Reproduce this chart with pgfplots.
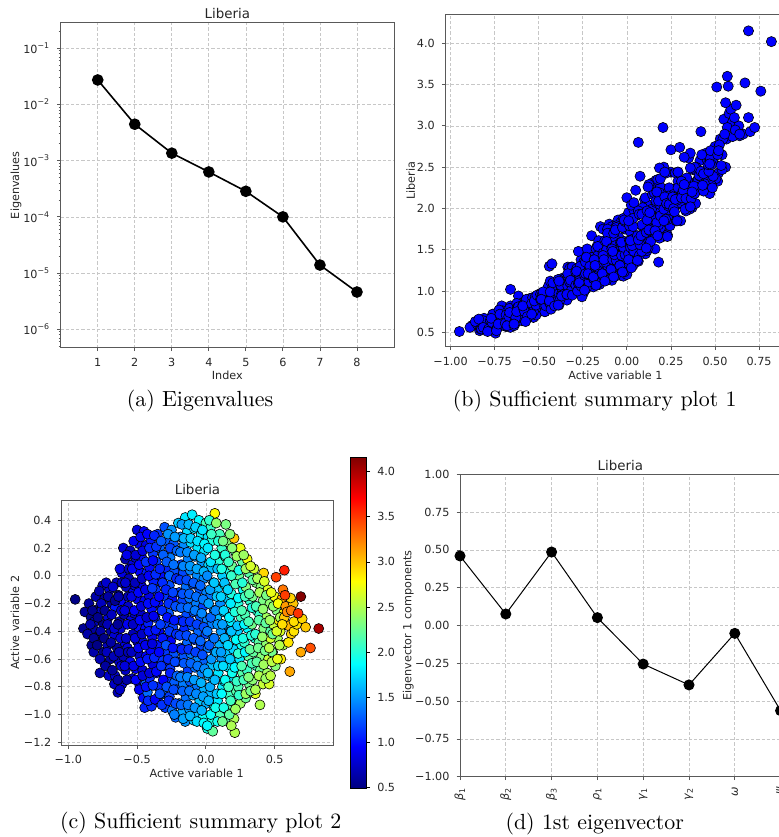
\documentclass[border=0pt]{standalone}
\usepackage{fontspec}
\usepackage{pgfplots}
\usepackage{pgfplotstable}
\pgfplotsset{compat=1.18}
\newfontfamily\dv{DejaVu Sans}
\newcommand\tk{\dv\fontsize{5.6}{6.7}\selectfont}
\newcommand\tl{\dv\fontsize{6.7}{8}\selectfont}
\definecolor{spine}{gray}{0.35}
\definecolor{gridc}{gray}{0.78}
\definecolor{txt}{gray}{0.15}
\pgfplotsset{mpl/.style={
  scale only axis, anchor=south west,
  axis line style={spine, line width=0.4pt},
  tick style={spine, line width=0.4pt},
  major tick length=1.75pt, minor tick length=1pt,
  tick align=outside, xtick pos=bottom, ytick pos=left,
  grid=major,
  major grid style={gridc, line width=0.35pt, dash pattern=on 1.6pt off 1pt},
  tick label style={font=\tk, color=txt},
  label style={font=\tk, color=txt},
  every axis title/.style={at={(0.5,1)}, anchor=base, font=\tl, color=txt},
  every axis x label/.style={anchor=center, font=\tk, color=txt},
  every axis y label/.style={anchor=center, rotate=90, font=\tk, color=txt},
  enlargelimits=false,
}}
\pgfplotstableread{
a b f
-0.950 -0.17 0.51
-0.880 -0.26 0.58
-0.890 -0.38 0.56
-0.820 -0.38 0.62
-0.850 -0.20 0.60
-0.835 -0.30 0.52
-0.860 -0.42 0.63
-0.830 -0.50 0.54
-0.800 -0.15 0.64
-0.785 -0.24 0.53
-0.810 -0.33 0.67
-0.780 -0.44 0.57
-0.815 -0.55 0.64
-0.750 -0.07 0.70
-0.735 -0.16 0.57
-0.760 -0.25 0.72
-0.745 -0.35 0.49
-0.765 -0.45 0.66
-0.745 -0.55 0.55
-0.730 -0.64 0.75
-0.770 -0.70 0.64
-0.700 -0.10 0.74
-0.685 -0.20 0.57
-0.710 -0.30 0.82
-0.690 -0.40 0.62
-0.715 -0.50 0.71
-0.695 -0.60 0.58
-0.705 -0.72 0.76
-0.650 -0.05 0.72
-0.635 -0.14 0.60
-0.660 -0.23 1.02
-0.630 -0.33 0.65
-0.665 -0.43 0.79
-0.645 -0.52 0.58
-0.630 -0.62 0.74
-0.660 -0.72 0.82
-0.640 -0.84 0.70
-0.600 0.20 0.80
-0.585 0.12 0.66
-0.610 0.02 0.84
-0.580 -0.08 0.71
-0.615 -0.18 0.94
-0.595 -0.28 0.64
-0.620 -0.38 0.76
-0.590 -0.48 0.86
-0.600 -0.58 0.68
-0.585 -0.68 0.74
-0.610 -0.78 0.82
-0.550 0.18 0.70
-0.535 0.08 0.84
-0.560 -0.02 0.69
-0.530 -0.12 0.89
-0.565 -0.22 0.76
-0.545 -0.32 0.86
-0.530 -0.42 0.68
-0.570 -0.52 0.81
-0.550 -0.62 0.91
-0.535 -0.74 0.73
-0.500 0.33 0.82
-0.485 0.23 0.88
-0.510 0.13 0.78
-0.480 0.03 0.94
-0.515 -0.07 0.83
-0.495 -0.17 0.88
-0.520 -0.27 0.75
-0.490 -0.37 0.97
-0.500 -0.47 0.89
-0.485 -0.57 0.76
-0.510 -0.67 0.94
-0.480 -0.79 0.83
-0.450 0.32 0.92
-0.435 0.22 0.86
-0.460 0.12 0.97
-0.430 0.02 1.05
-0.465 -0.08 0.85
-0.445 -0.18 0.90
-0.470 -0.28 0.76
-0.440 -0.38 0.97
-0.455 -0.48 0.87
-0.435 -0.58 0.94
-0.460 -0.68 0.82
-0.440 -0.78 1.30
-0.455 -0.88 0.99
-0.445 -0.95 1.06
-0.400 0.26 1.01
-0.385 0.16 1.14
-0.410 0.06 0.98
-0.380 -0.04 1.05
-0.415 -0.14 0.85
-0.395 -0.24 0.97
-0.420 -0.34 1.06
-0.390 -0.44 0.88
-0.400 -0.54 0.95
-0.385 -0.64 0.83
-0.410 -0.74 1.06
-0.425 -0.84 1.33
-0.395 -0.94 1.08
-0.350 0.30 1.13
-0.335 0.20 1.29
-0.360 0.10 1.16
-0.330 0.00 0.99
-0.365 -0.10 1.14
-0.345 -0.20 0.99
-0.370 -0.30 1.07
-0.340 -0.40 0.89
-0.355 -0.50 1.02
-0.335 -0.60 1.14
-0.360 -0.70 0.98
-0.345 -0.80 1.07
-0.350 -0.90 0.98
-0.300 0.35 1.24
-0.285 0.25 1.27
-0.310 0.15 1.27
-0.280 0.05 1.08
-0.315 -0.05 1.26
-0.295 -0.15 1.14
-0.320 -0.25 0.99
-0.290 -0.35 1.16
-0.300 -0.45 1.03
-0.285 -0.55 1.14
-0.310 -0.65 0.98
-0.280 -0.75 1.15
-0.315 -0.85 1.29
-0.295 -0.95 1.17
-0.250 0.33 1.47
-0.235 0.23 1.25
-0.260 0.13 1.38
-0.230 0.03 1.22
-0.265 -0.07 1.23
-0.245 -0.17 0.98
-0.270 -0.27 1.26
-0.240 -0.37 1.17
-0.255 -0.47 0.93
-0.235 -0.57 1.24
-0.260 -0.67 1.14
-0.230 -0.77 1.28
-0.265 -0.87 1.16
-0.245 -0.97 1.35
-0.200 0.38 1.67
-0.185 0.28 1.42
-0.210 0.18 1.39
-0.180 0.08 1.18
-0.215 -0.02 1.32
-0.195 -0.12 1.17
-0.220 -0.22 1.19
-0.190 -0.32 1.05
-0.200 -0.42 1.26
-0.185 -0.52 1.19
-0.210 -0.62 1.09
-0.180 -0.72 1.31
-0.215 -0.82 1.24
-0.195 -0.92 1.41
-0.220 -1.02 1.31
-0.150 0.42 1.78
-0.135 0.32 1.75
-0.160 0.22 1.45
-0.130 0.12 1.41
-0.165 0.02 1.20
-0.145 -0.08 1.34
-0.170 -0.18 1.19
-0.140 -0.28 1.22
-0.155 -0.38 1.08
-0.135 -0.48 1.31
-0.160 -0.58 1.25
-0.130 -0.68 1.16
-0.165 -0.78 1.40
-0.145 -0.88 1.34
-0.170 -0.98 1.54
-0.150 -1.05 1.49
-0.100 0.44 1.81
-0.085 0.34 1.78
-0.110 0.24 1.75
-0.080 0.14 1.45
-0.115 0.04 1.41
-0.095 -0.06 1.21
-0.120 -0.16 1.36
-0.090 -0.26 1.22
-0.100 -0.36 1.26
-0.085 -0.46 1.13
-0.110 -0.56 1.38
-0.080 -0.66 1.34
-0.115 -0.76 1.27
-0.095 -0.86 1.53
-0.120 -0.96 1.50
-0.090 -1.04 1.70
-0.050 0.40 1.86
-0.035 0.30 1.83
-0.060 0.20 1.79
-0.030 0.10 1.49
-0.065 0.00 1.45
-0.045 -0.10 1.24
-0.070 -0.20 1.39
-0.040 -0.30 1.26
-0.055 -0.40 1.31
-0.035 -0.50 1.19
-0.060 -0.60 1.44
-0.030 -0.70 1.42
-0.065 -0.80 1.37
-0.045 -0.90 1.65
-0.070 -1.00 1.64
0.000 0.38 2.13
0.015 0.28 1.77
-0.010 0.18 1.75
0.020 0.08 1.72
-0.015 -0.02 1.43
0.005 -0.12 1.42
-0.020 -0.22 1.18
0.010 -0.32 1.41
0.000 -0.42 1.20
0.015 -0.52 1.38
-0.010 -0.62 1.29
0.020 -0.72 1.57
-0.015 -0.82 1.59
0.005 -0.92 1.57
-0.020 -1.02 1.88
0.010 -1.10 1.95
0.065 0.45 2.80
0.035 0.35 2.05
0.040 0.25 1.99
0.070 0.15 1.94
0.035 0.05 1.62
0.055 -0.05 1.58
0.030 -0.15 1.37
0.060 -0.25 1.53
0.040 -0.35 1.40
0.050 -0.45 1.46
0.065 -0.55 1.36
0.035 -0.65 1.63
0.055 -0.75 1.63
0.030 -0.85 1.60
0.060 -0.95 1.92
0.040 -1.05 1.98
0.050 -1.12 2.22
0.100 0.30 2.11
0.115 0.20 2.05
0.090 0.10 2.00
0.120 0.00 1.69
0.085 -0.10 1.65
0.105 -0.20 1.45
0.080 -0.30 1.61
0.110 -0.40 1.50
0.100 -0.50 1.57
0.115 -0.60 1.49
0.090 -0.70 1.78
0.120 -0.80 1.80
0.085 -0.90 1.80
0.105 -1.00 2.13
0.145 0.37 2.31
0.165 0.24 2.34
0.140 0.14 1.98
0.170 0.04 1.95
0.135 -0.06 1.94
0.155 -0.16 1.67
0.130 -0.26 1.67
0.160 -0.36 1.51
0.140 -0.46 1.72
0.150 -0.56 1.67
0.165 -0.66 1.79
0.135 -0.76 1.75
0.170 -0.86 2.09
0.145 -0.96 2.17
0.155 -1.04 2.19
0.180 -0.40 1.35
0.205 0.27 2.98
0.215 0.17 2.14
0.190 0.07 2.26
0.220 -0.03 1.95
0.185 -0.13 1.98
0.205 -0.23 1.66
0.180 -0.33 1.80
0.210 -0.43 1.93
0.200 -0.53 1.71
0.215 -0.63 1.84
0.190 -0.73 1.76
0.220 -0.83 2.17
0.185 -0.93 2.19
0.205 -1.03 2.48
0.210 -1.13 2.50
0.250 0.20 2.71
0.265 0.10 2.23
0.240 0.00 2.25
0.270 -0.10 1.91
0.235 -0.20 2.00
0.255 -0.30 2.09
0.230 -0.40 1.68
0.260 -0.50 1.92
0.245 -0.60 1.79
0.265 -0.70 2.17
0.235 -0.80 2.15
0.250 -0.92 2.44
0.300 0.12 2.74
0.315 0.02 2.18
0.290 -0.08 2.33
0.320 -0.18 2.05
0.285 -0.28 2.13
0.305 -0.38 1.85
0.280 -0.48 2.04
0.310 -0.58 2.23
0.300 -0.68 2.07
0.315 -0.78 2.27
0.290 -0.88 2.25
0.350 0.05 2.61
0.365 -0.05 2.31
0.340 -0.15 2.28
0.370 -0.25 2.01
0.335 -0.35 2.28
0.355 -0.45 1.99
0.345 -0.55 2.21
0.370 -0.65 2.07
0.340 -0.75 2.37
0.360 -0.85 2.67
0.420 0.02 2.93
0.400 -0.08 2.34
0.415 -0.18 2.31
0.390 -0.28 2.06
0.420 -0.38 2.32
0.385 -0.48 2.19
0.405 -0.58 2.34
0.395 -0.68 2.25
0.415 -0.78 2.58
0.393 -0.93 2.50
0.450 -0.10 2.67
0.465 -0.20 2.38
0.440 -0.30 2.45
0.470 -0.40 2.18
0.435 -0.50 2.38
0.455 -0.60 2.59
0.445 -0.70 2.45
0.460 -0.78 2.64
0.500 -0.15 2.75
0.515 -0.25 2.33
0.490 -0.35 2.57
0.520 -0.45 2.43
0.485 -0.55 2.57
0.505 -0.65 2.36
0.470 -0.45 2.62
0.530 -0.32 2.84
0.480 -0.55 2.28
0.550 -0.17 3.08
0.565 -0.27 2.84
0.540 -0.40 2.65
0.560 -0.50 2.50
0.545 -0.60 2.84
-0.825 -0.25 0.54
-0.840 -0.35 0.66
-0.815 -0.45 0.56
-0.775 -0.11 0.64
-0.760 -0.20 0.72
-0.785 -0.30 0.54
-0.765 -0.40 0.62
-0.790 -0.50 0.51
-0.770 -0.60 0.67
-0.725 -0.05 0.77
-0.710 -0.15 0.62
-0.735 -0.25 0.56
-0.715 -0.35 0.69
-0.740 -0.45 0.52
-0.720 -0.55 0.72
-0.730 -0.65 0.60
-0.675 -0.08 0.77
-0.660 -0.18 0.56
-0.685 -0.28 0.71
-0.665 -0.38 0.79
-0.690 -0.48 0.61
-0.670 -0.58 0.69
-0.680 -0.68 0.58
-0.665 -0.78 0.74
-0.625 0.05 0.85
-0.610 -0.05 0.70
-0.635 -0.15 0.64
-0.615 -0.25 0.77
-0.640 -0.35 0.58
-0.620 -0.45 0.80
-0.630 -0.55 0.68
-0.615 -0.65 0.81
-0.640 -0.75 0.60
-0.625 -0.82 0.75
-0.575 0.15 0.88
-0.560 0.05 0.70
-0.585 -0.05 0.78
-0.565 -0.15 0.67
-0.590 -0.25 0.83
-0.570 -0.35 0.90
-0.580 -0.45 0.75
-0.565 -0.55 0.69
-0.590 -0.65 0.82
-0.575 -0.75 0.63
-0.525 0.25 0.92
-0.510 0.15 0.80
-0.535 0.05 0.92
-0.515 -0.05 0.71
-0.540 -0.15 0.85
-0.520 -0.25 0.93
-0.530 -0.35 0.75
-0.515 -0.45 0.83
-0.540 -0.55 0.72
-0.525 -0.65 0.88
-0.510 -0.75 0.95
-0.475 0.28 0.92
-0.460 0.18 0.85
-0.485 0.08 0.96
-0.465 -0.02 0.75
-0.490 -0.12 0.96
-0.470 -0.22 0.83
-0.480 -0.32 0.96
-0.465 -0.42 0.75
-0.490 -0.52 0.90
-0.475 -0.62 0.99
-0.460 -0.72 0.82
-0.485 -0.82 0.90
-0.425 0.30 0.95
-0.410 0.20 1.08
-0.435 0.10 1.12
-0.415 0.00 0.94
-0.440 -0.10 0.86
-0.420 -0.20 0.98
-0.430 -0.30 0.78
-0.415 -0.40 1.00
-0.440 -0.50 0.88
-0.425 -0.60 1.02
-0.410 -0.70 0.82
-0.435 -0.80 0.99
-0.420 -0.90 1.10
-0.375 0.29 1.08
-0.360 0.21 1.12
-0.385 0.11 0.97
-0.365 0.01 1.10
-0.390 -0.09 1.14
-0.370 -0.19 0.97
-0.380 -0.29 0.89
-0.365 -0.39 1.02
-0.390 -0.49 0.83
-0.375 -0.59 1.07
-0.360 -0.69 0.96
-0.385 -0.79 1.12
-0.370 -0.89 0.94
-0.325 0.25 1.27
-0.310 0.15 1.29
-0.335 0.05 1.06
-0.315 -0.05 1.10
-0.340 -0.15 0.96
-0.320 -0.25 1.10
-0.330 -0.35 1.16
-0.315 -0.45 1.01
-0.340 -0.55 0.96
-0.325 -0.65 1.11
-0.310 -0.75 0.95
-0.335 -0.85 1.21
-0.320 -0.93 1.13
-0.275 0.30 1.48
-0.260 0.20 1.19
-0.285 0.10 1.27
-0.265 0.00 1.30
-0.290 -0.10 1.07
-0.270 -0.20 1.12
-0.280 -0.30 1.00
-0.265 -0.40 1.15
-0.290 -0.50 1.23
-0.275 -0.60 1.09
-0.260 -0.70 1.06
-0.285 -0.80 1.24
-0.270 -0.90 1.10
-0.225 0.28 1.51
-0.210 0.18 1.30
-0.235 0.08 1.35
-0.215 -0.02 1.08
-0.240 -0.12 1.19
-0.220 -0.22 1.23
-0.230 -0.32 1.03
-0.215 -0.42 1.11
-0.240 -0.52 1.01
-0.225 -0.62 1.20
-0.210 -0.72 1.30
-0.235 -0.82 1.21
-0.220 -0.92 1.21
-0.230 -1.00 1.41
-0.175 0.37 1.51
-0.160 0.27 1.61
-0.185 0.17 1.38
-0.165 0.07 1.43
-0.190 -0.03 1.15
-0.170 -0.13 1.24
-0.180 -0.23 1.29
-0.165 -0.33 1.09
-0.190 -0.43 1.17
-0.175 -0.53 1.07
-0.160 -0.63 1.26
-0.185 -0.73 1.38
-0.170 -0.83 1.29
-0.180 -0.93 1.31
-0.165 -1.03 1.54
-0.125 0.37 1.61
-0.110 0.27 1.70
-0.135 0.17 1.46
-0.115 0.07 1.50
-0.140 -0.03 1.21
-0.120 -0.13 1.30
-0.130 -0.23 1.34
-0.115 -0.33 1.13
-0.140 -0.43 1.21
-0.125 -0.53 1.12
-0.110 -0.63 1.31
-0.135 -0.73 1.43
-0.120 -0.83 1.35
-0.130 -0.93 1.38
-0.115 -1.01 1.60
-0.075 0.35 1.70
-0.060 0.25 1.77
-0.085 0.15 1.52
-0.065 0.05 1.55
-0.090 -0.05 1.26
-0.070 -0.15 1.34
-0.080 -0.25 1.38
-0.065 -0.35 1.18
-0.090 -0.45 1.26
-0.075 -0.55 1.17
-0.060 -0.65 1.37
-0.085 -0.75 1.51
-0.070 -0.85 1.44
-0.080 -0.95 1.48
-0.065 -1.05 1.74
-0.025 0.33 1.77
-0.010 0.23 1.84
-0.035 0.13 1.58
-0.015 0.03 1.60
-0.040 -0.07 1.31
-0.020 -0.17 1.39
-0.030 -0.27 1.43
-0.015 -0.37 1.23
-0.040 -0.47 1.31
-0.025 -0.57 1.23
-0.010 -0.67 1.44
-0.035 -0.77 1.59
-0.020 -0.87 1.53
-0.030 -0.97 1.59
-0.015 -1.06 1.86
0.025 0.40 2.04
0.040 0.30 2.07
0.015 0.20 1.79
0.035 0.10 1.78
0.010 0.00 1.45
0.030 -0.10 1.51
0.020 -0.20 1.53
0.035 -0.30 1.31
0.010 -0.40 1.38
0.025 -0.50 1.28
0.040 -0.60 1.48
0.015 -0.70 1.61
0.030 -0.80 1.55
0.020 -0.90 1.61
0.035 -1.00 1.88
0.010 -1.08 1.85
0.075 0.38 2.39
0.090 0.25 2.01
0.065 0.15 1.97
0.085 0.05 1.63
0.060 -0.05 1.67
0.080 -0.15 1.66
0.070 -0.25 1.43
0.085 -0.35 1.48
0.060 -0.45 1.37
0.075 -0.55 1.56
0.090 -0.65 1.68
0.065 -0.75 1.62
0.080 -0.85 1.67
0.070 -0.95 1.93
0.085 -1.05 1.93
0.125 0.25 2.29
0.140 0.15 1.99
0.115 0.05 1.97
0.135 -0.05 1.65
0.110 -0.15 1.71
0.130 -0.25 1.73
0.120 -0.35 1.52
0.135 -0.45 1.60
0.110 -0.55 1.52
0.125 -0.65 1.74
0.140 -0.75 1.90
0.115 -0.85 1.86
0.130 -0.95 1.95
0.120 -1.05 2.26
0.175 0.30 2.35
0.190 0.20 2.36
0.165 0.10 2.07
0.185 0.00 2.05
0.160 -0.10 1.73
0.180 -0.20 1.80
0.170 -0.30 1.83
0.185 -0.40 1.64
0.160 -0.50 1.73
0.175 -0.60 1.67
0.190 -0.70 1.91
0.165 -0.80 2.09
0.180 -0.90 2.09
0.170 -1.00 2.20
0.185 -1.08 2.49
0.225 0.14 2.43
0.240 0.04 1.95
0.215 -0.06 2.14
0.235 -0.16 1.87
0.210 -0.26 1.99
0.230 -0.36 1.66
0.220 -0.46 1.87
0.235 -0.56 2.03
0.210 -0.66 1.85
0.225 -0.76 2.06
0.240 -0.86 2.05
0.215 -0.96 2.44
0.275 0.15 2.43
0.290 0.05 2.44
0.265 -0.05 2.00
0.285 -0.15 2.10
0.260 -0.25 2.14
0.280 -0.35 1.85
0.270 -0.45 1.96
0.285 -0.55 1.85
0.260 -0.65 2.14
0.275 -0.75 2.11
0.290 -0.85 2.44
0.325 0.07 2.62
0.340 -0.03 2.22
0.315 -0.13 2.19
0.335 -0.23 1.97
0.310 -0.33 2.13
0.330 -0.43 1.99
0.320 -0.53 2.22
0.335 -0.63 2.12
0.310 -0.73 2.33
0.325 -0.83 2.29
0.375 -0.02 2.47
0.390 -0.12 2.47
0.365 -0.22 2.12
0.385 -0.32 2.18
0.360 -0.42 2.02
0.380 -0.52 2.27
0.370 -0.62 2.20
0.385 -0.72 2.50
0.360 -0.82 2.49
0.425 -0.04 2.65
0.440 -0.14 2.30
0.415 -0.24 2.39
0.435 -0.34 2.21
0.410 -0.44 2.40
0.430 -0.54 2.28
0.420 -0.64 2.45
0.435 -0.74 2.42
0.475 -0.12 2.70
0.490 -0.22 2.39
0.465 -0.32 2.45
0.485 -0.42 2.25
0.460 -0.52 2.53
0.480 -0.62 2.53
0.470 -0.72 2.54
0.525 -0.20 2.77
0.540 -0.30 2.47
0.515 -0.40 2.65
0.535 -0.50 2.52
0.520 -0.60 2.70
0.580 -0.22 3.15
0.600 -0.36 3.05
0.620 -0.42 2.95
0.570 -0.30 2.98
0.640 -0.40 2.88
0.660 -0.35 2.90
0.600 -0.48 2.87
0.590 -0.26 3.20
0.555 -0.35 2.90
0.635 -0.20 3.00
0.615 -0.16 2.95
0.620 -0.25 3.25
0.640 -0.33 2.90
0.700 -0.31 2.93
0.725 -0.37 2.98
0.670 -0.27 3.52
0.610 -0.69 3.10
0.690 -0.55 3.10
0.760 -0.52 3.42
0.560 -0.10 3.28
0.575 -0.14 3.48
0.510 -0.01 3.47
0.570 0.04 3.60
0.820 -0.38 4.02
0.690 -0.15 4.15
}\sdata
\begin{document}
\begin{tikzpicture}
% (a) eigenvalues
\begin{axis}[mpl, at={(30.35pt,244.65pt)}, width=166.65pt, height=162.5pt,
  xmin=0, xmax=9, ymode=log, ymin=4.7e-7, ymax=0.285,
  xtick={1,2,3,4,5,6,7,8}, xticklabels={1,2,3,4,5,6,7,8},
  ytick={1e-6,1e-5,1e-4,1e-3,1e-2,1e-1},
  yticklabels={10\textsuperscript{−6},10\textsuperscript{−5},10\textsuperscript{−4},10\textsuperscript{−3},10\textsuperscript{−2},10\textsuperscript{−1}},
  minor ytick={5e-7,6e-7,7e-7,8e-7,9e-7,2e-6,3e-6,4e-6,5e-6,6e-6,7e-6,8e-6,9e-6,2e-5,3e-5,4e-5,5e-5,6e-5,7e-5,8e-5,9e-5,2e-4,3e-4,4e-4,5e-4,6e-4,7e-4,8e-4,9e-4,2e-3,3e-3,4e-3,5e-3,6e-3,7e-3,8e-3,9e-3,2e-2,3e-2,4e-2,5e-2,6e-2,7e-2,8e-2,9e-2,2e-1},
  title={Liberia}, title style={yshift=2.2pt},
  xlabel={Index}, xlabel style={at={(axis description cs:0.5,-0.084)}},
  ylabel={Eigenvalues}, ylabel style={at={(axis description cs:-0.134,0.5)}},
]
\addplot[black, line width=0.8pt, mark=*, mark size=2.5pt, mark options={fill=black}] coordinates {
(1,0.0273) (2,0.00445) (3,0.00136) (4,0.00063) (5,0.000285) (6,0.0001) (7,1.39e-5) (8,4.6e-6)};
\end{axis}
% (b) sufficient summary 1
\begin{axis}[mpl, at={(222.65pt,245.15pt)}, width=170.1pt, height=166pt,
  xmin=-1.03, xmax=0.90, ymin=0.326, ymax=4.346, axis on top,
  xtick={-1,-0.75,-0.5,-0.25,0,0.25,0.5,0.75},
  xticklabels={−1.00,−0.75,−0.50,−0.25,0.00,0.25,0.50,0.75},
  ytick={0.5,1,1.5,2,2.5,3,3.5,4},
  yticklabels={0.5,1.0,1.5,2.0,2.5,3.0,3.5,4.0},
  xlabel={Active variable 1}, xlabel style={at={(axis description cs:0.5,-0.085)}},
  ylabel={Liberia}, ylabel style={at={(axis description cs:-0.102,0.5)}},
]
\addplot[only marks, mark=*, mark size=2.55pt, mark options={fill=blue, draw=black, line width=0.3pt}] table[x=a, y=f]{\sdata};
\end{axis}
% (c) sufficient summary 2
\begin{axis}[mpl, at={(30.85pt,46pt)}, width=135.8pt, height=122.15pt,
  xmin=-1.048, xmax=0.926, ymin=-1.219, ymax=0.541, axis on top,
  xtick={-1,-0.5,0,0.5}, xticklabels={−1.0,−0.5,0.0,0.5},
  ytick={-1.2,-1,-0.8,-0.6,-0.4,-0.2,0,0.2,0.4},
  yticklabels={−1.2,−1.0,−0.8,−0.6,−0.4,−0.2,0.0,0.2,0.4},
  title={Liberia}, title style={yshift=3.2pt},
  xlabel={Active variable 1}, xlabel style={at={(axis description cs:0.497,-0.116)}},
  ylabel={Active variable 2}, ylabel style={at={(axis description cs:-0.172,0.5)}},
  colormap/jet, point meta min=0.49, point meta max=4.16,
]
\addplot[scatter, only marks, mark=*, mark size=2.5pt, point meta=explicit,
  scatter/use mapped color={draw=black, fill=mapped color},
  mark options={line width=0.3pt}] table[x=a, y=b, meta=f]{\sdata};
\end{axis}
% colour bar of (c)
\begin{axis}[scale only axis, anchor=south west, at={(175.35pt,24.35pt)}, width=8pt, height=165.5pt,
  xmin=0, xmax=1, ymin=0.49, ymax=4.16, enlargelimits=false,
  colormap/jet, point meta min=0.49, point meta max=4.16,
  axis line style={black, line width=0.4pt},
  xtick=\empty, ytick pos=right, yticklabel pos=right,
  ytick={0.5,1,1.5,2,2.5,3,3.5,4},
  yticklabels={0.5,1.0,1.5,2.0,2.5,3.0,3.5,4.0},
  yticklabel style={font=\tk, color=txt},
  major tick length=1.75pt, tick align=outside,
  tick style={black, line width=0.4pt}, axis on top,
]
\addplot[patch, shader=interp, point meta=explicit] coordinates {
(0,0.49) [0.49] (1,0.49) [0.49] (1,4.16) [4.16]
(0,0.49) [0.49] (1,4.16) [4.16] (0,4.16) [4.16]};
\end{axis}
% (d) first eigenvector
\begin{axis}[mpl, at={(230pt,30.15pt)}, width=160.3pt, height=151.2pt,
  xmin=0, xmax=7, ymin=-1, ymax=1,
  xtick={0,1,2,3,4,5,6,7},
  xticklabels={\textit{β}\textsubscript{1},\textit{β}\textsubscript{2},\textit{β}\textsubscript{3},\textit{ρ}\textsubscript{1},\textit{γ}\textsubscript{1},\textit{γ}\textsubscript{2},\textit{ω},\textit{ψ}},
  xticklabel style={rotate=90, anchor=east},
  ytick={-1,-0.75,-0.5,-0.25,0,0.25,0.5,0.75,1},
  yticklabels={−1.00,−0.75,−0.50,−0.25,0.00,0.25,0.50,0.75,1.00},
  title={Liberia}, title style={yshift=2.15pt},
]
\addplot[black, line width=0.5pt, mark=*, mark size=2.5pt, mark options={fill=black}] coordinates {
(0,0.46) (1,0.076) (2,0.486) (3,0.052) (4,-0.255) (5,-0.393) (6,-0.052) (7,-0.563)};
\end{axis}
\node[rotate=90, anchor=center, font=\tk, text=txt] at (204.15pt,105.75pt) {Eigenvector 1 components};
\fontsize{10.95}{13}\selectfont
\node[anchor=base] at (100pt,215.3pt) {(a) Eigenvalues};
\node[anchor=base] at (297.35pt,215.3pt) {(b) Sufficient summary plot 1};
\node[anchor=base] at (100.4pt,4.4pt) {(c) Sufficient summary plot 2};
\node[anchor=base] at (297.35pt,4pt) {(d) 1st eigenvector};
\pgfresetboundingbox
\useasboundingbox (0,0) rectangle (389pt,418.5pt);
\end{tikzpicture}
\end{document}
